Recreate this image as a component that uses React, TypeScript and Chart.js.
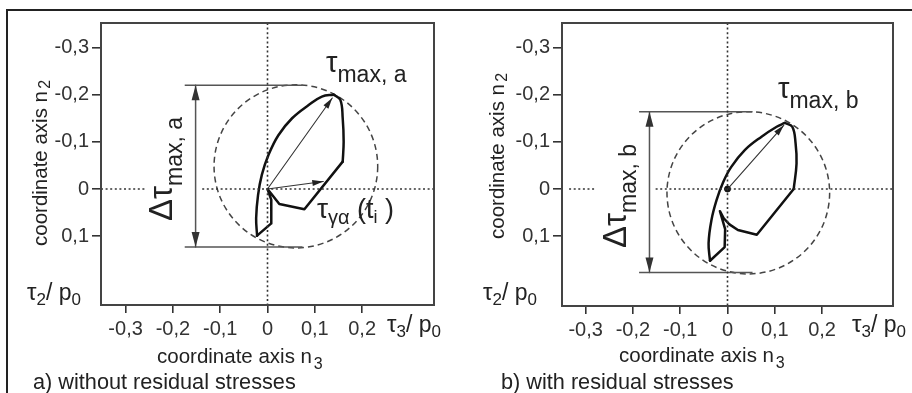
import React, { useEffect, useRef } from "react";
import { Chart, registerables } from "chart.js";

Chart.register(...registerables);

type P = [number, number];

// ---------- shared axes ----------
const X_TICKS = [-0.3, -0.2, -0.1, 0, 0.1, 0.2];
const Y_TICKS = [-0.3, -0.2, -0.1, 0, 0.1];

// ---------- panel a: without residual stresses ----------
const A_X_RANGE: P = [-0.352, 0.352];
const A_Y_RANGE: P = [-0.352, 0.246];
const A_LOOP_LEFT: P[] = [
  [-0.022, 0.099], [-0.024, 0.062], [-0.02, 0.013], [-0.012, -0.03], [0.002, -0.072],
  [0.023, -0.114], [0.052, -0.15], [0.087, -0.178], [0.115, -0.196], [0.14, -0.2],
];
const A_LOOP_RIGHT: P[] = [
  [0.14, -0.2], [0.154, -0.189], [0.159, -0.15], [0.161, -0.1], [0.159, -0.058],
];
const A_LOOP_INNER: P[] = [
  [0.159, -0.058], [0.078, 0.043], [0.025, 0.032], [0, 0], [0.008, 0.023],
  [0.008, 0.073], [-0.022, 0.099],
];
const A_ARROW_TIPS: P[] = [[0.137, -0.193], [0.118, -0.016]];
const A_CIRCLE: number[] = [0.06, -0.048, 0.173];
const A_DIM_Y: P = [-0.22, 0.123];
const A_DIM_X: P = [-0.175, 0.074];
const A_DIM_ARROW_X = -0.152;
const A_ZERO_LINE: P[] = [[-0.352, -0.259], [-0.138, 0.352]];

// ---------- panel b: with residual stresses ----------
const B_X_RANGE: P = [-0.35, 0.35];
const B_Y_RANGE: P = [-0.352, 0.248];
const B_LOOP_LEFT: P[] = [
  [-0.037, 0.152], [-0.04, 0.115], [-0.034, 0.066], [-0.023, 0.023], [-0.009, -0.015],
  [0.008, -0.047], [0.037, -0.083], [0.072, -0.111], [0.104, -0.132], [0.121, -0.14],
];
const B_LOOP_RIGHT: P[] = [
  [0.121, -0.14], [0.137, -0.132], [0.144, -0.097], [0.146, -0.054], [0.14, 0.0],
];
const B_LOOP_INNER: P[] = [
  [0.14, 0.0], [0.062, 0.097], [0.022, 0.087], [0.004, 0.075], [-0.008, 0.062],
  [-0.016, 0.047], [-0.005, 0.085], [-0.006, 0.123], [-0.037, 0.152],
];
const B_ARROW_TIPS: P[] = [[0.119, -0.135]];
const B_CIRCLE: number[] = [0.044, 0.008, 0.172];
const B_DIM_Y: P = [-0.164, 0.177];
const B_DIM_X: P = [-0.187, 0.053];
const B_DIM_ARROW_X = -0.165;
const B_ZERO_LINE: P[] = [[-0.335, -0.278], [-0.152, 0.35]];

// ---------- drawing helpers ----------
const FONT = '"Liberation Sans", Arial, Helvetica, sans-serif';
const INK = "#222";

type Seg = { t: string; s: number; dy?: number };
type Label = { x: number; y: number; rot?: boolean; segs: Seg[] };

function drawRich(ctx: CanvasRenderingContext2D, l: Label) {
  ctx.save();
  ctx.translate(l.x, l.y);
  if (l.rot) ctx.rotate(-Math.PI / 2);
  ctx.fillStyle = INK;
  ctx.textBaseline = "alphabetic";
  ctx.textAlign = "left";
  let cx = 0;
  for (const sg of l.segs) {
    ctx.font = `${sg.s}px ${FONT}`;
    ctx.fillText(sg.t, cx, sg.dy || 0);
    cx += ctx.measureText(sg.t).width;
  }
  ctx.restore();
}

function fmt(v: number) {
  if (Math.abs(v) < 1e-9) return "0";
  return v.toFixed(1).replace(".", ",");
}

const pts = (arr: P[]) => arr.map(([x, y]) => ({ x, y }));

type Spec = {
  xRange: P; yRange: P;
  loopLeft: P[]; loopRight: P[]; loopInner: P[];
  arrowTips: P[]; circle: number[];
  dimY: P; dimX: P; dimArrowX: number; zeroLine: P[];
  originDot: boolean;
  yAxisWidth: number; xAxisHeight: number; padRight: number;
  labels: Label[];
};

function makeConfig(sp: Spec): any {
  const lineDs = (data: P[], extra: any = {}) => ({
    data: pts(data),
    showLine: true,
    pointRadius: 0,
    pointHoverRadius: 0,
    fill: false,
    borderColor: "#111",
    borderWidth: 2.5,
    tension: 0,
    borderJoinStyle: "round",
    borderCapStyle: "round",
    ...extra,
  });
  const dotted = { borderColor: "#333", borderWidth: 1.6, borderDash: [2, 2.6], borderCapStyle: "butt" };
  const dim = { borderColor: "#555", borderWidth: 1.5, borderCapStyle: "butt" };

  const datasets: any[] = [
    lineDs([[0, sp.yRange[0]], [0, sp.yRange[1]]], dotted),
    ...sp.zeroLine.map((seg) => lineDs([[seg[0], 0], [seg[1], 0]], dotted)),
    lineDs([[sp.dimX[0], sp.dimY[0]], [sp.dimX[1], sp.dimY[0]]], dim),
    lineDs([[sp.dimX[0], sp.dimY[1]], [sp.dimX[1], sp.dimY[1]]], dim),
    lineDs([[sp.dimArrowX, sp.dimY[0]], [sp.dimArrowX, sp.dimY[1]]], {
      ...dim,
      head: { start: true, end: true, len: 15, w: 8, color: "#333" },
    }),
    lineDs(sp.loopLeft, { tension: 0.4 }),
    lineDs(sp.loopRight, { tension: 0.4 }),
    lineDs(sp.loopInner),
    ...sp.arrowTips.map((tip) =>
      lineDs([[0, 0], tip], {
        borderColor: "#333",
        borderWidth: 1.1,
        head: { end: true, len: 11, w: 6, color: "#222" },
      })
    ),
  ];
  if (sp.originDot) {
    datasets.push({
      data: [{ x: 0, y: 0 }],
      showLine: false,
      pointRadius: 3,
      pointBackgroundColor: "#111",
      pointBorderColor: "#111",
    });
  }

  const figurePlugin = {
    id: "figure",
    beforeDatasetsDraw(chart: any) {
      const { ctx, scales } = chart;
      const x = scales.x, y = scales.y;
      const [cx, cy, r] = sp.circle;
      const px = x.getPixelForValue(cx), py = y.getPixelForValue(cy);
      const rx = Math.abs(x.getPixelForValue(cx + r) - px);
      const ry = Math.abs(y.getPixelForValue(cy + r) - py);
      ctx.save();
      ctx.beginPath();
      ctx.setLineDash([6, 4]);
      ctx.lineWidth = 1.5;
      ctx.strokeStyle = "#444";
      ctx.ellipse(px, py, rx, ry, 0, 0, Math.PI * 2);
      ctx.stroke();
      ctx.restore();
    },
    afterDatasetsDraw(chart: any) {
      const ctx: CanvasRenderingContext2D = chart.ctx;
      chart.data.datasets.forEach((ds: any, i: number) => {
        const head = ds.head;
        if (!head) return;
        const el = chart.getDatasetMeta(i).data;
        const drawHead = (tip: any, from: any) => {
          const a = Math.atan2(tip.y - from.y, tip.x - from.x);
          ctx.save();
          ctx.translate(tip.x, tip.y);
          ctx.rotate(a);
          ctx.beginPath();
          ctx.moveTo(0, 0);
          ctx.lineTo(-head.len, head.w / 2);
          ctx.lineTo(-head.len, -head.w / 2);
          ctx.closePath();
          ctx.fillStyle = head.color;
          ctx.fill();
          ctx.restore();
        };
        if (head.end) drawHead(el[el.length - 1], el[el.length - 2]);
        if (head.start) drawHead(el[0], el[1]);
      });
      const a = chart.chartArea;
      ctx.save();
      ctx.strokeStyle = "#444";
      ctx.lineWidth = 2;
      ctx.setLineDash([]);
      ctx.strokeRect(a.left, a.top, a.right - a.left, a.bottom - a.top);
      ctx.restore();
    },
    afterDraw(chart: any) {
      for (const l of sp.labels) drawRich(chart.ctx, l);
    },
  };

  const tickFont = { family: FONT, size: 20 };
  return {
    type: "scatter",
    data: { datasets },
    plugins: [figurePlugin],
    options: {
      animation: false,
      responsive: false,
      events: [],
      layout: { padding: { left: 0, top: 23, right: sp.padRight, bottom: 0 } },
      plugins: { legend: { display: false }, tooltip: { enabled: false } },
      scales: {
        x: {
          type: "linear",
          position: "bottom",
          min: sp.xRange[0],
          max: sp.xRange[1],
          afterBuildTicks: (s: any) => { s.ticks = X_TICKS.map((v) => ({ value: v })); },
          afterFit: (s: any) => { s.height = sp.xAxisHeight; },
          ticks: { font: tickFont, color: "#333", padding: 4, callback: (v: any) => fmt(Number(v)), autoSkip: false, maxRotation: 0 },
          grid: { drawOnChartArea: false, drawTicks: true, tickLength: 8, color: "#333", lineWidth: 1.6 },
          border: { display: false },
        },
        y: {
          type: "linear",
          position: "left",
          reverse: true,
          min: sp.yRange[0],
          max: sp.yRange[1],
          afterBuildTicks: (s: any) => { s.ticks = Y_TICKS.map((v) => ({ value: v })); },
          afterFit: (s: any) => { s.width = sp.yAxisWidth; },
          ticks: { font: tickFont, color: "#333", padding: 3, callback: (v: any) => fmt(Number(v)), autoSkip: false },
          grid: { drawOnChartArea: false, drawTicks: true, tickLength: 9, color: "#333", lineWidth: 1.6 },
          border: { display: false },
        },
      },
    },
  };
}

const tauOverP = (x: number, y: number, sub: string): Label => ({
  x, y,
  segs: [
    { t: "τ", s: 24 },
    { t: sub, s: 17, dy: 5 },
    { t: "/ p", s: 23 },
    { t: "0", s: 17, dy: 5 },
  ],
});

const SPEC_A: Spec = {
  xRange: A_X_RANGE, yRange: A_Y_RANGE,
  loopLeft: A_LOOP_LEFT, loopRight: A_LOOP_RIGHT, loopInner: A_LOOP_INNER,
  arrowTips: A_ARROW_TIPS, circle: A_CIRCLE,
  dimY: A_DIM_Y, dimX: A_DIM_X, dimArrowX: A_DIM_ARROW_X, zeroLine: A_ZERO_LINE,
  originDot: false,
  yAxisWidth: 101, xAxisHeight: 88, padRight: 22,
  labels: [
    { x: 47, y: 246, rot: true, segs: [{ t: "coordinate axis n", s: 20.5 }, { t: " ", s: 8 }, { t: "2", s: 16, dy: 3 }] },
    { x: 157, y: 363, segs: [{ t: "coordinate axis n", s: 20.5 }, { t: " ", s: 6 }, { t: "3", s: 16, dy: 6 }] },
    { x: 33, y: 389, segs: [{ t: "a) without residual stresses", s: 21.7 }] },
    tauOverP(27, 300, "2"),
    tauOverP(387, 332, "3"),
    { x: 326, y: 72, segs: [{ t: "τ", s: 29 }, { t: "max, a", s: 23, dy: 10 }] },
    {
      x: 317, y: 218,
      segs: [{ t: "τ", s: 28 }, { t: "γα", s: 20, dy: 6 }, { t: " (t", s: 27 }, { t: "i", s: 18, dy: 5 }, { t: " )", s: 27 }],
    },
    { x: 172, y: 221, rot: true, segs: [{ t: "Δτ", s: 33 }, { t: "max, a", s: 23, dy: 10 }] },
  ],
};

const SPEC_B: Spec = {
  xRange: B_X_RANGE, yRange: B_Y_RANGE,
  loopLeft: B_LOOP_LEFT, loopRight: B_LOOP_RIGHT, loopInner: B_LOOP_INNER,
  arrowTips: B_ARROW_TIPS, circle: B_CIRCLE,
  dimY: B_DIM_Y, dimX: B_DIM_X, dimArrowX: B_DIM_ARROW_X, zeroLine: B_ZERO_LINE,
  originDot: true,
  yAxisWidth: 106, xAxisHeight: 87, padRight: 19,
  labels: [
    { x: 48, y: 239, rot: true, segs: [{ t: "coordinate axis n", s: 20.5 }, { t: " ", s: 8 }, { t: "2", s: 16, dy: 3 }] },
    { x: 163, y: 362, segs: [{ t: "coordinate axis n", s: 20.5 }, { t: " ", s: 6 }, { t: "3", s: 16, dy: 6 }] },
    { x: 45, y: 389, segs: [{ t: "b) with residual stresses", s: 21.7 }] },
    tauOverP(27, 300, "2"),
    tauOverP(396, 332, "3"),
    { x: 322, y: 98, segs: [{ t: "τ", s: 29 }, { t: "max, b", s: 23, dy: 10 }] },
    { x: 170, y: 248, rot: true, segs: [{ t: "Δτ", s: 33 }, { t: "max, b", s: 23, dy: 10 }] },
  ],
};

function Panel({ spec, left }: { spec: Spec; left: number }) {
  const ref = useRef<HTMLCanvasElement>(null);
  useEffect(() => {
    if (!ref.current) return;
    const chart = new Chart(ref.current, makeConfig(spec));
    return () => chart.destroy();
  }, [spec]);
  return (
    <canvas
      ref={ref}
      width={456}
      height={393}
      style={{ position: "absolute", left, top: 0, width: 456, height: 393 }}
    />
  );
}

export default function App() {
  return (
    <div
      style={{
        position: "absolute",
        left: 0,
        top: 0,
        width: 912,
        height: 393,
        overflow: "hidden",
        background: "#fff",
      }}
    >
      <div
        style={{
          position: "absolute",
          left: 6,
          top: 9,
          width: 1000,
          height: 1000,
          borderLeft: "2px solid #222",
          borderTop: "2px solid #222",
        }}
      />
      <Panel spec={SPEC_A} left={0} />
      <Panel spec={SPEC_B} left={456} />
    </div>
  );
}
